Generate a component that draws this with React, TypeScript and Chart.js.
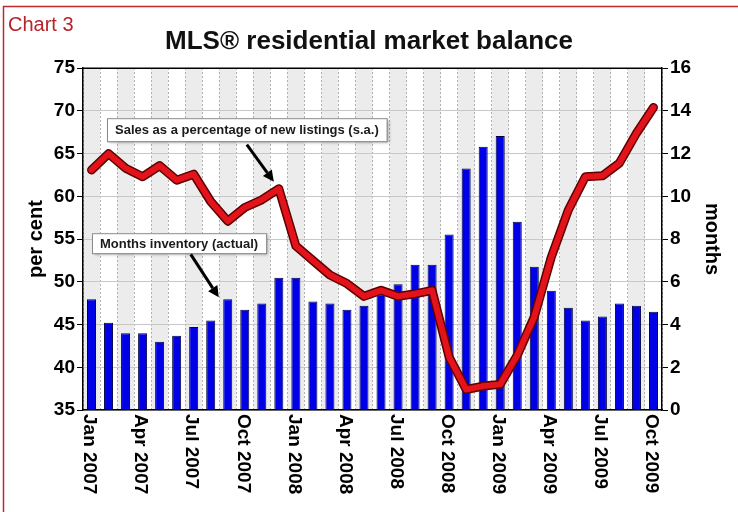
import React, { useEffect, useRef } from "react";
import { Chart, registerables } from "chart.js";

Chart.register(...registerables);

const MONTHS = ["Jan", "Feb", "Mar", "Apr", "May", "Jun", "Jul", "Aug", "Sep", "Oct", "Nov", "Dec"];
const YEARS = [2007, 2008, 2009];

const categories: string[] = [];
YEARS.forEach((y) => MONTHS.forEach((m) => categories.push(`${m} ${y}`)));
categories.splice(34);

// Months inventory (actual), right axis
const monthsInventory = [
  5.18, 4.09, 3.59, 3.59, 3.2, 3.48, 3.88, 4.19, 5.18, 4.69, 4.99, 6.19,
  6.19, 5.08, 4.99, 4.69, 4.88, 5.41, 5.89, 6.8, 6.8, 8.22, 11.31, 12.32,
  12.83, 8.81, 6.71, 5.58, 4.79, 4.19, 4.38, 4.99, 4.88, 4.6,
];

// Sales as a percentage of new listings (s.a.), left axis
const salesRatio = [
  63.1, 65.0, 63.3, 62.3, 63.6, 61.9, 62.6, 59.4, 57.1, 58.7, 59.6, 60.9,
  54.2, 52.5, 50.8, 49.8, 48.3, 49.0, 48.3, 48.6, 49.0, 41.2, 37.4, 37.8,
  38.0, 41.4, 45.9, 52.9, 58.4, 62.3, 62.4, 63.9, 67.4, 70.4,
];

const xTickLabels = categories.filter((_, i) => i % 3 === 0);

const TITLE = "MLS® residential market balance";
const CHART_NO = "Chart 3";
const LEFT_TITLE = "per cent";
const RIGHT_TITLE = "months";
const SALES_NOTE = "Sales as a percentage of new listings (s.a.)";
const INV_NOTE = "Months inventory (actual)";
const SALES_ARROW_INDEX = 11;
const INV_ARROW_INDEX = 8;

const FONT = "Arial, 'Liberation Sans', sans-serif";

function arrow(ctx: CanvasRenderingContext2D, x1: number, y1: number, x2: number, y2: number) {
  const ang = Math.atan2(y2 - y1, x2 - x1);
  const head = 11;
  const bx = x2 - head * Math.cos(ang);
  const by = y2 - head * Math.sin(ang);
  ctx.save();
  ctx.strokeStyle = "#000";
  ctx.fillStyle = "#000";
  ctx.lineWidth = 3;
  ctx.beginPath();
  ctx.moveTo(x1, y1);
  ctx.lineTo(bx, by);
  ctx.stroke();
  ctx.beginPath();
  ctx.moveTo(x2, y2);
  ctx.lineTo(bx + 5.5 * Math.sin(ang), by - 5.5 * Math.cos(ang));
  ctx.lineTo(bx - 5.5 * Math.sin(ang), by + 5.5 * Math.cos(ang));
  ctx.closePath();
  ctx.fill();
  ctx.restore();
}

function noteBox(ctx: CanvasRenderingContext2D, text: string, x: number, y: number, h: number) {
  ctx.save();
  ctx.font = `bold 13px ${FONT}`;
  const w = ctx.measureText(text).width + 16;
  ctx.shadowColor = "rgba(0,0,0,0.35)";
  ctx.shadowOffsetX = 2;
  ctx.shadowOffsetY = 2;
  ctx.shadowBlur = 3;
  ctx.fillStyle = "#fff";
  ctx.fillRect(x, y, w, h);
  ctx.shadowColor = "transparent";
  ctx.strokeStyle = "#8a8a8a";
  ctx.lineWidth = 1;
  ctx.strokeRect(x + 0.5, y + 0.5, w, h);
  ctx.fillStyle = "#1a1a1a";
  ctx.textBaseline = "middle";
  ctx.textAlign = "left";
  ctx.fillText(text, x + 8, y + h / 2 + 1);
  ctx.restore();
}

const decorPlugin = {
  id: "decor",
  beforeDraw(chart: any) {
    const { ctx, chartArea } = chart;
    const xs = chart.scales.x;
    const half = (xs.getPixelForValue(1) - xs.getPixelForValue(0)) / 2;
    ctx.save();
    ctx.fillStyle = "#fff";
    ctx.fillRect(0, 0, chart.width, chart.height);
    ctx.fillStyle = "#ececec";
    categories.forEach((_, i) => {
      if (i % 2 === 0) {
        const cx = xs.getPixelForValue(i);
        ctx.fillRect(cx - half, chartArea.top, half * 2, chartArea.bottom - chartArea.top);
      }
    });
    // frame
    ctx.strokeStyle = "#c0282e";
    ctx.lineWidth = 1.5;
    ctx.beginPath();
    ctx.moveTo(3.5, chart.height + 2);
    ctx.lineTo(3.5, 6.5);
    ctx.lineTo(chart.width + 2, 6.5);
    ctx.stroke();
    ctx.fillStyle = "#b5242a";
    ctx.font = `20px 'Liberation Sans Narrow', ${FONT}`;
    ctx.textBaseline = "alphabetic";
    ctx.textAlign = "left";
    ctx.fillText(CHART_NO, 8, 31);
    ctx.restore();
  },
  afterDraw(chart: any) {
    const { ctx, chartArea } = chart;
    const xs = chart.scales.x;
    const yL = chart.scales.yL;
    const yR = chart.scales.yR;
    ctx.save();
    // plot frame top
    ctx.strokeStyle = "#000";
    ctx.lineWidth = 1.5;
    ctx.beginPath();
    ctx.moveTo(chartArea.left, chartArea.top);
    ctx.lineTo(chartArea.right, chartArea.top);
    ctx.stroke();
    // x labels, rotated to read downwards
    ctx.fillStyle = "#000";
    ctx.font = `bold 19px ${FONT}`;
    ctx.textAlign = "left";
    ctx.textBaseline = "middle";
    categories.forEach((c, i) => {
      if (i % 3 !== 0) return;
      const x = xs.getPixelForValue(i);
      ctx.save();
      ctx.translate(x - 2, chartArea.bottom + 4);
      ctx.rotate(Math.PI / 2);
      ctx.fillText(xTickLabels[i / 3], 0, 0);
      ctx.restore();
    });
    ctx.restore();

    // annotations
    noteBox(ctx, SALES_NOTE, chartArea.left + 24, chartArea.top + 50, 23);
    noteBox(ctx, INV_NOTE, chartArea.left + 9, chartArea.top + 165, 20);
    const sx = xs.getPixelForValue(SALES_ARROW_INDEX);
    const sy = yL.getPixelForValue(salesRatio[SALES_ARROW_INDEX]);
    arrow(ctx, sx - 32, sy - 44, sx - 5, sy - 7);
    const ix = xs.getPixelForValue(INV_ARROW_INDEX);
    const iy = yR.getPixelForValue(monthsInventory[INV_ARROW_INDEX]);
    arrow(ctx, ix - 37, iy - 45, ix - 9, iy - 2);
  },
};

export default function App() {
  const ref = useRef<HTMLCanvasElement | null>(null);
  useEffect(() => {
    document.body.style.margin = "0";
    const canvas = ref.current!;
    const chart = new Chart(canvas, {
      type: "bar",
      data: {
        labels: categories,
        datasets: [
          {
            type: "line",
            label: "Sales ratio",
            data: salesRatio,
            yAxisID: "yL",
            borderColor: "#e3121b",
            borderWidth: 6,
            pointRadius: 0,
            tension: 0,
            borderJoinStyle: "round",
            borderCapStyle: "round",
            order: 1,
          } as any,
          {
            type: "line",
            label: "Sales ratio outline",
            data: salesRatio,
            yAxisID: "yL",
            borderColor: "#5c0000",
            borderWidth: 9,
            pointRadius: 0,
            tension: 0,
            borderJoinStyle: "round",
            borderCapStyle: "round",
            order: 2,
          } as any,
          {
            type: "bar",
            label: "Months inventory",
            data: monthsInventory,
            yAxisID: "yR",
            backgroundColor: "#0000e6",
            borderColor: "#000040",
            borderWidth: 1,
            barPercentage: 0.53,
            categoryPercentage: 1,
            order: 3,
          } as any,
        ],
      },
      options: {
        responsive: false,
        animation: false,
        layout: { padding: 0 },
        plugins: {
          legend: { display: false },
          tooltip: { enabled: false },
          title: {
            display: true,
            text: TITLE,
            color: "#111",
            font: { family: FONT, size: 26, weight: "bold" },
            padding: { top: 26, bottom: 11 },
          },
        },
        scales: {
          x: {
            type: "category",
            offset: true,
            grid: { display: true, offset: true, color: "#9a9a9a", lineWidth: 1, drawTicks: false },
            border: { display: true, color: "#000", width: 1.5, dash: [1.5, 2.5] },
            ticks: { display: false },
            afterFit: (s: any) => {
              s.height = 102;
            },
          },
          yL: {
            type: "linear",
            position: "left",
            min: 35,
            max: 75,
            ticks: { stepSize: 5, color: "#000", font: { family: FONT, size: 19, weight: "bold" }, padding: 2 },
            grid: { color: "#c8c8c8", lineWidth: 1, tickLength: 6, tickColor: "#000" },
            border: { color: "#000", width: 1.5 },
            title: {
              display: true,
              text: LEFT_TITLE,
              color: "#000",
              font: { family: FONT, size: 20, weight: "bold" },
              padding: { top: 24, bottom: 0 },
            },
            afterFit: (s: any) => {
              s.width = 83;
            },
          },
          yR: {
            type: "linear",
            position: "right",
            min: 0,
            max: 16,
            ticks: { stepSize: 2, color: "#000", font: { family: FONT, size: 19, weight: "bold" }, padding: 2 },
            grid: { drawOnChartArea: false, tickLength: 6, tickColor: "#000" },
            border: { color: "#000", width: 1.5 },
            title: {
              display: true,
              text: RIGHT_TITLE,
              color: "#000",
              font: { family: FONT, size: 20, weight: "bold" },
              padding: { top: 14, bottom: 0 },
            },
            afterFit: (s: any) => {
              s.width = 76;
            },
          },
        },
      } as any,
      plugins: [decorPlugin],
    });
    return () => chart.destroy();
  }, []);
  return (
    <div style={{ width: 738, height: 512 }}>
      <canvas ref={ref} width={738} height={512} style={{ display: "block", width: 738, height: 512 }} />
    </div>
  );
}
